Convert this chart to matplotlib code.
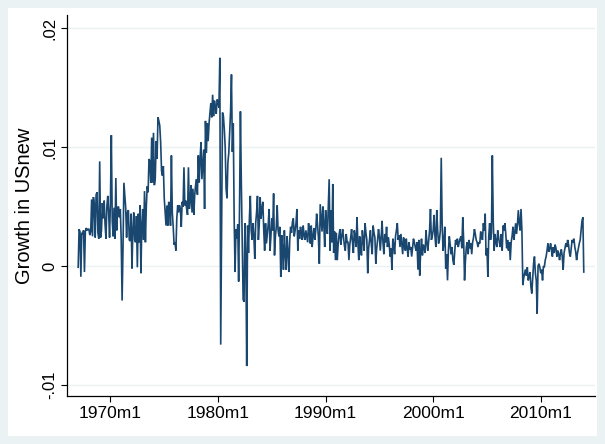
import matplotlib
matplotlib.use("Agg")
import matplotlib.pyplot as plt
import numpy as np
import pandas as pd

plt.rcParams['font.family'] = ['Liberation Sans', 'DejaVu Sans']

start_month = "1967-01"

growth_1960s = [
    -0.0001, 0.0031, 0.0029, -0.0009, 0.0028, 0.0027, 0.0030, -0.0005, 0.0029, 0.0032, 0.0030, 0.0031,
    0.0031, 0.0026, 0.0029, 0.0056, 0.0025, 0.0058, 0.0052, 0.0024, 0.0060, 0.0062, 0.0028, 0.0023,
    0.0088, 0.0024, 0.0030, 0.0053, 0.0040, 0.0055, 0.0035, 0.0023, 0.0050, 0.0059, 0.0045, 0.0024,
]
growth_1970s = [
    0.0055, 0.0110, 0.0038, 0.0025, 0.0049, 0.0023, 0.0074, 0.0030, 0.0049, 0.0050, 0.0041, 0.0048,
    0.0022, -0.0029, 0.0015, 0.0070, 0.0060, 0.0049, 0.0024, 0.0045, 0.0047, 0.0022, 0.0021, 0.0044,
    -0.0002, 0.0030, 0.0045, 0.0022, 0.0020, 0.0042, -0.0001, 0.0044, 0.0020, 0.0051, -0.0006, 0.0035,
    0.0048, 0.0022, 0.0063, 0.0020, 0.0050, 0.0067, 0.0062, 0.0090, 0.0088, 0.0070, 0.0108, 0.0070,
    0.0112, 0.0068, 0.0074, 0.0105, 0.0090, 0.0125, 0.0122, 0.0118, 0.0104, 0.0080, 0.0076, 0.0084,
    0.0057, 0.0045, 0.0034, 0.0051, 0.0034, 0.0054, 0.0050, 0.0034, 0.0093, 0.0045, 0.0033, 0.0018,
    0.0020, 0.0013, 0.0040, 0.0051, 0.0045, 0.0051, 0.0048, 0.0033, 0.0054, 0.0050, 0.0083, 0.0051,
    0.0055, 0.0048, 0.0043, 0.0083, 0.0048, 0.0055, 0.0068, 0.0045, 0.0065, 0.0043, 0.0060, 0.0068,
    0.0073, 0.0060, 0.0093, 0.0070, 0.0090, 0.0104, 0.0073, 0.0085, 0.0098, 0.0048, 0.0122, 0.0095,
    0.0120, 0.0105, 0.0120, 0.0129, 0.0137, 0.0125, 0.0144, 0.0126, 0.0139, 0.0134, 0.0128, 0.0140,
]
growth_1980s = [
    0.0138, 0.0133, 0.0175, -0.0066, 0.0035, 0.0129, 0.0126, 0.0115, 0.0100, 0.0065, 0.0057, 0.0087,
    0.0095, 0.0112, 0.0130, 0.0161, 0.0096, 0.0120, 0.0040, -0.0005, 0.0031, 0.0023, 0.0035, -0.0013,
    0.0050, 0.0130, 0.0070, 0.0018, -0.0028, -0.0030, 0.0036, 0.0010, -0.0084, 0.0034, 0.0011, 0.0040,
    0.0059, 0.0030, 0.0022, 0.0036, 0.0025, 0.0006, 0.0036, 0.0045, 0.0059, 0.0022, 0.0035, 0.0058,
    0.0040, 0.0048, 0.0054, 0.0030, 0.0013, 0.0036, 0.0019, 0.0027, 0.0035, 0.0048, 0.0013, 0.0025,
    0.0040, 0.0030, 0.0061, 0.0009, 0.0025, 0.0033, 0.0051, 0.0030, 0.0025, 0.0033, -0.0009, 0.0026,
    0.0015, -0.0003, 0.0030, 0.0010, -0.0003, 0.0025, 0.0012, -0.0005, 0.0022, 0.0033, 0.0028, 0.0037,
    0.0040, 0.0025, 0.0030, 0.0036, 0.0048, 0.0013, 0.0030, 0.0023, 0.0033, 0.0028, 0.0022, 0.0034,
    0.0026, 0.0022, 0.0030, 0.0025, 0.0020, 0.0036, 0.0028, 0.0019, 0.0034, 0.0016, 0.0025, 0.0032,
    0.0022, 0.0030, 0.0044, 0.0035, 0.0024, 0.0002, 0.0052, 0.0040, 0.0029, 0.0050, 0.0035, 0.0016,
]
growth_1990s = [
    0.0047, 0.0035, 0.0027, 0.0050, 0.0073, 0.0013, 0.0047, 0.0020, 0.0069, 0.0011, 0.0029, 0.0005,
    0.0028, 0.0005, 0.0018, 0.0026, 0.0031, 0.0018, 0.0025, 0.0031, 0.0024, 0.0017, 0.0013, 0.0027,
    0.0020, 0.0020, 0.0005, 0.0018, 0.0024, 0.0031, 0.0020, 0.0011, 0.0030, 0.0025, 0.0016, 0.0041,
    0.0020, 0.0005, 0.0025, 0.0015, 0.0009, 0.0030, 0.0022, 0.0013, 0.0036, 0.0028, 0.0022, -0.0006,
    0.0015, 0.0022, 0.0030, 0.0018, 0.0010, 0.0034, 0.0028, 0.0024, 0.0002, 0.0015, 0.0022, 0.0031,
    0.0025, 0.0013, 0.0024, 0.0038, 0.0020, 0.0010, 0.0027, 0.0020, 0.0033, 0.0016, 0.0024, 0.0018,
    0.0008, 0.0015, -0.0003, 0.0023, 0.0018, 0.0010, 0.0025, 0.0030, 0.0036, 0.0022, 0.0026, 0.0016,
    0.0027, 0.0018, 0.0010, 0.0024, 0.0017, 0.0013, 0.0023, 0.0015, 0.0008, 0.0020, 0.0014, 0.0016,
    0.0008, 0.0015, 0.0023, 0.0020, 0.0016, 0.0013, 0.0020, -0.0003, 0.0022, -0.0008, 0.0012, 0.0023,
    0.0009, 0.0018, 0.0015, 0.0011, 0.0030, 0.0020, 0.0013, 0.0022, 0.0030, 0.0048, 0.0022, 0.0025,
]
growth_2000s = [
    0.0030, 0.0043, 0.0025, 0.0016, 0.0047, 0.0030, 0.0019, 0.0022, 0.0030, 0.0091, 0.0036, 0.0013,
    0.0020, 0.0033, -0.0002, 0.0010, -0.0012, 0.0013, 0.0025, 0.0018, 0.0010, 0.0016, 0.0005, 0.0001,
    0.0012, 0.0022, 0.0018, 0.0023, 0.0016, 0.0020, 0.0023, 0.0025, 0.0015, 0.0041, 0.0022, -0.0012,
    0.0005, 0.0016, 0.0020, 0.0010, 0.0022, 0.0015, 0.0019, 0.0010, 0.0020, 0.0024, 0.0031, 0.0027,
    0.0022, 0.0020, 0.0016, 0.0020, 0.0019, 0.0029, 0.0025, 0.0022, 0.0036, 0.0030, 0.0044, 0.0009,
    0.0015, -0.0009, 0.0025, 0.0036, 0.0022, 0.0028, 0.0093, 0.0038, 0.0013, 0.0027, 0.0020, 0.0016,
    0.0030, 0.0024, 0.0019, 0.0016, 0.0027, 0.0013, 0.0034, 0.0030, 0.0036, 0.0027, 0.0015, 0.0022,
    0.0013, 0.0020, 0.0005, 0.0020, 0.0025, 0.0033, 0.0022, 0.0028, 0.0036, 0.0027, 0.0035, 0.0047,
    0.0036, 0.0030, 0.0048, 0.0030, -0.0016, -0.0010, -0.0006, -0.0003, -0.0008, -0.0001, -0.0012, -0.0009,
    -0.0005, -0.0017, -0.0023, -0.0010, 0.0002, 0.0008, -0.0006, -0.0012, -0.0040, 0.0000, 0.0002, -0.0001,
]
growth_2010s = [
    -0.0006, -0.0003, -0.0012, 0.0000, -0.0001, 0.0005, 0.0008, 0.0013, 0.0019, 0.0012, 0.0015, 0.0019,
    0.0013, 0.0008, 0.0016, 0.0011, 0.0018, 0.0015, 0.0008, 0.0013, 0.0010, 0.0005, 0.0011, 0.0014,
    0.0008, -0.0003, 0.0011, 0.0015, 0.0019, 0.0016, 0.0022, 0.0018, 0.0011, 0.0008, 0.0015, 0.0022,
    0.0020, 0.0023, 0.0016, 0.0012, 0.0005, 0.0011, 0.0015, 0.0019, 0.0022, 0.0030, 0.0038, 0.0041,
    -0.0005,
]

x_tick_labels = ["1970m1", "1980m1", "1990m1", "2000m1", "2010m1"]
y_tick_values = [-0.01, 0, 0.01, 0.02]
y_tick_labels = ["-.01", "0", ".01", ".02"]
y_title = "Growth in USnew"

values = np.array(growth_1960s + growth_1970s + growth_1980s + growth_1990s
                  + growth_2000s + growth_2010s)
periods = pd.period_range(start_month, periods=len(values), freq="M")
xpos = np.array([p.ordinal for p in periods])
tick_pos = [pd.Period(lbl.replace("m", "-"), freq="M").ordinal for lbl in x_tick_labels]

bg = "#EAF2F3"
line_color = "#1a476f"

fig = plt.figure(figsize=(6.05, 4.44), dpi=100)
fig.patch.set_facecolor(bg)
# inner white graph area (Stata-style)
inner = fig.add_axes([0.013, 0.018, 0.974, 0.964])
inner.set_facecolor("white")
inner.set_xticks([]); inner.set_yticks([])
for s in inner.spines.values():
    s.set_visible(False)

ax = fig.add_axes([0.1107, 0.108, 0.872, 0.858])
ax.set_facecolor("white")
ax.plot(xpos, values, color=line_color, lw=1.2, solid_joinstyle="miter")

ax.set_ylim(-0.01092, 0.02109)
x0 = periods[0].ordinal
ax.set_xlim(x0 - 12.5, x0 + 576)

ax.set_yticks(y_tick_values)
ax.set_yticklabels(y_tick_labels, rotation=90, va="center", fontsize=12)
ax.set_xticks(tick_pos)
ax.set_xticklabels(x_tick_labels, fontsize=12.5)
ax.tick_params(axis="both", direction="out", length=4, width=0.8, color="black", pad=3)
ax.grid(axis="y", color=bg, lw=1.0)
ax.set_axisbelow(True)
for side in ["top", "right"]:
    ax.spines[side].set_visible(False)
for side in ["left", "bottom"]:
    ax.spines[side].set_linewidth(0.9)
ax.set_ylabel(y_title, fontsize=14.5, labelpad=6)

fig.savefig("out.png", dpi=100, facecolor=fig.get_facecolor())
